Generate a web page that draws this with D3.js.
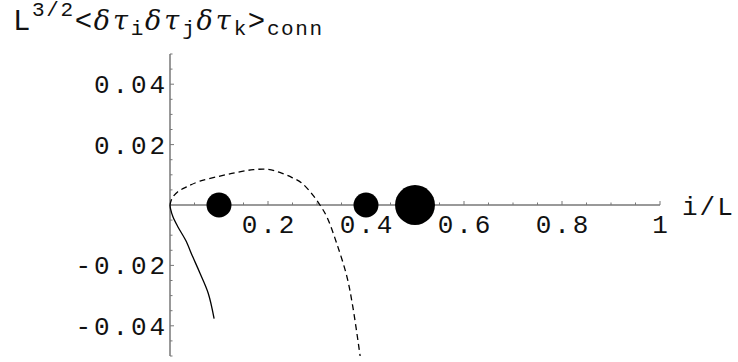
<!DOCTYPE html>
<html>
<head>
<meta charset="utf-8">
<script src="https://cdn.jsdelivr.net/npm/d3@7"></script>
<style>
  body { margin: 0; background: #fff; }
  svg { display: block; }
  .lbl { font-family: "Liberation Mono", "Courier New", monospace; fill: #111; }
</style>
</head>
<body>
<div id="chart"></div>
<script>
var width = 738, height = 362
var margin = {top: 54, right: 78, bottom: 6, left: 170}

// tick values
var xTicks = [0.2, 0.4, 0.6, 0.8, 1]
var xTickLabels = ["0.2", "0.4", "0.6", "0.8", "1"]
var yTicks = [0.04, 0.02, -0.02, -0.04]
var yTickLabels = ["0.04", "0.02", "-0.02", "-0.04"]

// solid curve
var solidX = [0, 0.001, 0.006, 0.016, 0.032, 0.046, 0.061, 0.078, 0.09]
var solidY = [0, -0.0012, -0.0039, -0.0072, -0.0117, -0.017, -0.0225, -0.0292, -0.0376]

// dashed curve
var dashX = [0, 0.002, 0.006, 0.016, 0.034, 0.061, 0.10, 0.136, 0.17, 0.2, 0.224, 0.25, 0.268, 0.29, 0.306, 0.32, 0.34, 0.361, 0.373, 0.388]
var dashY = [0, 0.0013, 0.0027, 0.0044, 0.006, 0.0079, 0.0095, 0.0108, 0.0117, 0.0118, 0.0108, 0.009, 0.0074, 0.0036, 0, -0.0039, -0.0126, -0.0237, -0.0336, -0.05]

// points on the axis
var dotX = [0.1, 0.4, 0.5]
var dotY = [0, 0, 0]
var dotWeight = [1, 1, 2.55]

var svg = d3.select("#chart")
  .append("svg")
  .attr("width", width)
  .attr("height", height)

var xScale = d3.scaleLinear()
  .domain([0, 1])
  .range([margin.left, 660])

var yScale = d3.scaleLinear()
  .domain([-0.05, 0.05])
  .range([height - margin.bottom, margin.top])

var rScale = d3.scaleSqrt()
  .domain([0, 1])
  .range([0, 12.5])

var axisColor = "#777"

// X axis line
svg.append("line")
  .attr("x1", xScale(0)).attr("x2", xScale(1))
  .attr("y1", yScale(0)).attr("y2", yScale(0))
  .style("stroke", axisColor)
  .style("stroke-width", 1.5)

// Y axis line
svg.append("line")
  .attr("x1", xScale(0)).attr("x2", xScale(0))
  .attr("y1", yScale(0.05)).attr("y2", yScale(-0.05))
  .style("stroke", axisColor)
  .style("stroke-width", 1.5)

// minor and major ticks
var xMinor = d3.range(1, 21).map(d => d * 0.05)
svg.append("g").selectAll("line")
  .data(xMinor)
  .enter()
  .append("line")
  .attr("x1", d => xScale(d)).attr("x2", d => xScale(d))
  .attr("y1", yScale(0))
  .attr("y2", (d, i) => yScale(0) - ((i + 1) % 4 === 0 ? 4 : 2.5))
  .style("stroke", axisColor)
  .style("stroke-width", 1)

var yMinor = d3.range(-10, 11).filter(d => d !== 0).map(d => d * 0.005)
svg.append("g").selectAll("line")
  .data(yMinor)
  .enter()
  .append("line")
  .attr("x1", xScale(0))
  .attr("x2", d => xScale(0) + (Math.abs(Math.round(d / 0.005)) % 4 === 0 ? 4 : 2.5))
  .attr("y1", d => yScale(d)).attr("y2", d => yScale(d))
  .style("stroke", axisColor)
  .style("stroke-width", 1)

// tick labels
svg.append("g").selectAll("text")
  .data(xTicks)
  .enter()
  .append("text")
  .attr("class", "lbl")
  .attr("x", d => xScale(d) + 1.5)
  .attr("y", yScale(0) + 28)
  .attr("text-anchor", "middle")
  .style("font-size", "26px")
  .style("letter-spacing", "2.9px")
  .text((d, i) => xTickLabels[i])

svg.append("g").selectAll("text")
  .data(yTicks)
  .enter()
  .append("text")
  .attr("class", "lbl")
  .attr("x", xScale(0) - 2)
  .attr("y", d => yScale(d) + 9)
  .attr("text-anchor", "end")
  .style("font-size", "26px")
  .style("letter-spacing", "2.9px")
  .text((d, i) => yTickLabels[i])

// axis labels
svg.append("text")
  .attr("class", "lbl")
  .attr("x", 682)
  .attr("y", 215)
  .style("font-size", "26px")
  .style("letter-spacing", "2px")
  .text("i/L")

var title = svg.append("text")
  .attr("class", "lbl")
  .attr("x", 13)
  .attr("y", 30)
  .style("font-size", "29px")

var greek = {"font-family": "'DejaVu Serif', serif", "font-style": "italic"}
function part(txt, size, dy, isGreek, ls) {
  var t = title.append("tspan").text(txt).attr("dy", dy).style("font-size", size + "px")
  t.style("letter-spacing", (ls || 1.6) + "px")
  if (isGreek) {
    t.style("font-family", greek["font-family"]).style("font-style", greek["font-style"])
  }
  return t
}
part("L", 29, 0)
part("3/2", 21, -14)
part("<", 29, 14)
part("δτ", 27, 0, true, 3)
part("i", 21, 5)
part("δτ", 27, -5, true, 3)
part("j", 21, 5)
part("δτ", 27, -5, true, 3)
part("k", 21, 5)
part(">", 29, -5)
part("conn", 21, 5)

// curves
var line = d3.line()
  .x(d => xScale(d[0]))
  .y(d => yScale(d[1]))
  .curve(d3.curveCatmullRom.alpha(0.5))

var solid = solidX.map((x, i) => [x, solidY[i]])
var dashed = dashX.map((x, i) => [x, dashY[i]])

svg.append("path")
  .attr("d", line(solid))
  .style("fill", "none")
  .style("stroke", "#000")
  .style("stroke-width", 1.3)

svg.append("path")
  .attr("d", line(dashed))
  .style("fill", "none")
  .style("stroke", "#000")
  .style("stroke-width", 1.3)
  .style("stroke-dasharray", "6,4")

// dots
svg.append("g").selectAll("circle")
  .data(dotX)
  .enter()
  .append("circle")
  .attr("cx", d => xScale(d))
  .attr("cy", (d, i) => yScale(dotY[i]))
  .attr("r", (d, i) => rScale(dotWeight[i]))
  .style("fill", "#000")
</script>
</body>
</html>
